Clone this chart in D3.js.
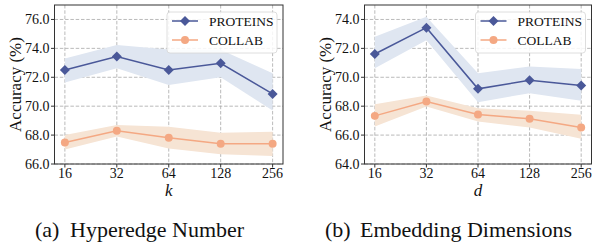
<!DOCTYPE html>
<html>
<head>
<meta charset="utf-8">
<script src="https://cdn.jsdelivr.net/npm/d3@7"></script>
<style>
  body { margin: 0; background: #fff; }
</style>
</head>
<body>
<div id="chart"></div>
<script>
// x categories shared by both panels
var xCats = ["16", "32", "64", "128", "256"];

// (a) hyperedge number k
var protK = [72.5, 73.43, 72.5, 72.97, 70.85];
var protKLo = [71.63, 72.62, 71.47, 72.0, 69.7];
var protKHi = [73.3, 74.23, 73.93, 73.9, 72.28];
var collabK = [67.49, 68.3, 67.82, 67.4, 67.4];
var collabKLo = [67.0, 67.9, 67.08, 66.67, 66.55];
var collabKHi = [68.0, 68.69, 68.57, 68.16, 68.23];
var yTicksK = [66, 68, 70, 72, 74, 76];

// (b) embedding dimensions d
var protD = [71.61, 73.43, 69.2, 69.79, 69.43];
var protDLo = [70.62, 72.57, 68.28, 68.9, 68.37];
var protDHi = [72.8, 74.18, 70.28, 70.74, 70.57];
var collabD = [67.33, 68.32, 67.42, 67.13, 66.53];
var collabDLo = [66.6, 67.98, 66.94, 66.53, 65.75];
var collabDHi = [68.14, 68.74, 67.86, 67.68, 67.4];
var yTicksD = [64, 66, 68, 70, 72, 74];

var blue = "#4a5899", blueBand = "#dfe6f1";
var orange = "#f4a883", orangeBand = "#f6e4d4";
var serif = "'Liberation Serif', 'Times New Roman', Times, 'DejaVu Serif', serif";

var svg = d3.select("#chart").append("svg")
    .attr("width", 592)
    .attr("height", 243)
    .attr("font-family", serif)
    .style("font-family", serif);

function label(sel, size) {
    return sel.style("font-family", serif).style("font-size", size + "px").attr("fill", "#111");
}

function drawPanel(left, right, yDomain, yTicks, series, xLabel, caption) {
    var top = 5, bottom = 164;
    var x = d3.scalePoint().domain(xCats).range([left, right]).padding(0.2);
    var y = d3.scaleLinear().domain(yDomain).range([bottom, top]);
    var g = svg.append("g");

    // grid
    g.append("g").selectAll("line").data(yTicks).enter().append("line")
        .attr("x1", left).attr("x2", right)
        .attr("y1", function(d) { return y(d); }).attr("y2", function(d) { return y(d); })
        .attr("stroke", "#a8a8a8").attr("stroke-width", 0.8).attr("stroke-dasharray", "3.5,1.8");
    g.append("g").selectAll("line").data(xCats).enter().append("line")
        .attr("y1", top).attr("y2", bottom)
        .attr("x1", function(d) { return x(d); }).attr("x2", function(d) { return x(d); })
        .attr("stroke", "#a8a8a8").attr("stroke-width", 0.8).attr("stroke-dasharray", "3.5,1.8");

    // bands, lines, markers
    series.forEach(function(s) {
        var pts = xCats.map(function(c, i) { return { c: c, v: s.vals[i], lo: s.lo[i], hi: s.hi[i] }; });
        g.append("path").datum(pts)
            .attr("fill", s.band)
            .attr("d", d3.area()
                .x(function(d) { return x(d.c); })
                .y0(function(d) { return y(d.lo); })
                .y1(function(d) { return y(d.hi); }));
    });
    series.forEach(function(s) {
        var pts = xCats.map(function(c, i) { return { c: c, v: s.vals[i] }; });
        g.append("path").datum(pts)
            .attr("fill", "none").attr("stroke", s.color).attr("stroke-width", 1.5)
            .attr("d", d3.line().x(function(d) { return x(d.c); }).y(function(d) { return y(d.v); }));
        g.append("g").selectAll("path").data(pts).enter().append("path")
            .attr("transform", function(d) { return "translate(" + x(d.c) + "," + y(d.v) + ")"; })
            .attr("d", s.symbol)
            .attr("fill", s.color);
    });

    // legend
    var lx = right - 116, ly = 12;
    var leg = g.append("g");
    leg.append("rect")
        .attr("x", lx).attr("y", ly).attr("width", 110).attr("height", 41)
        .attr("rx", 3).attr("fill", "#fff").attr("fill-opacity", 0.85)
        .attr("stroke", "#d6d6d6").attr("stroke-width", 0.8);
    series.forEach(function(s, i) {
        var yy = ly + 9 + i * 19;
        leg.append("line").attr("x1", lx + 5).attr("x2", lx + 31)
            .attr("y1", yy).attr("y2", yy)
            .attr("stroke", s.color).attr("stroke-width", 1.5);
        leg.append("path").attr("transform", "translate(" + (lx + 18) + "," + yy + ")")
            .attr("d", s.symbol).attr("fill", s.color);
        label(leg.append("text"), 13.5).attr("x", lx + 42).attr("y", yy + 4.5).text(s.name);
    });

    // spines
    g.append("rect")
        .attr("x", left).attr("y", top).attr("width", right - left).attr("height", bottom - top)
        .attr("fill", "none").attr("stroke", "#333").attr("stroke-width", 1);

    // ticks
    var yt = g.append("g");
    yt.selectAll("line").data(yTicks).enter().append("line")
        .attr("x1", left - 3.5).attr("x2", left)
        .attr("y1", function(d) { return y(d); }).attr("y2", function(d) { return y(d); })
        .attr("stroke", "#333");
    label(yt.selectAll("text").data(yTicks).enter().append("text"), 14)
        .attr("x", left - 5).attr("y", function(d) { return y(d) + 4.8; })
        .attr("text-anchor", "end")
        .text(function(d) { return d.toFixed(1); });
    var xt = g.append("g");
    xt.selectAll("line").data(xCats).enter().append("line")
        .attr("y1", bottom).attr("y2", bottom + 3.5)
        .attr("x1", function(d) { return x(d); }).attr("x2", function(d) { return x(d); })
        .attr("stroke", "#333");
    label(xt.selectAll("text").data(xCats).enter().append("text"), 14)
        .attr("x", function(d) { return x(d); }).attr("y", 177.5)
        .attr("text-anchor", "middle")
        .text(function(d) { return d; });

    // axis labels
    label(g.append("text"), 17)
        .attr("transform", "translate(" + (left - 33.5) + "," + ((top + bottom) / 2) + ")rotate(-90)")
        .attr("text-anchor", "middle")
        .text("Accuracy (%)");
    label(g.append("text"), 17)
        .attr("x", (left + right) / 2).attr("y", 196)
        .attr("text-anchor", "middle").style("font-style", "italic")
        .text(xLabel);

    // caption
    label(g.append("text"), 22).attr("x", caption.x).attr("y", 237).text(caption.tag);
    label(g.append("text"), 22).attr("x", caption.x + 35).attr("y", 237).text(caption.text);
}

// matplotlib-like square diamond and small circle
var diamond = "M0,-5L5,0L0,5L-5,0Z";
var circle = d3.symbol().type(d3.symbolCircle).size(50)();

drawPanel(54.5, 283, [66, 77], yTicksK, [
    { name: "PROTEINS", vals: protK, lo: protKLo, hi: protKHi, color: blue, band: blueBand, symbol: diamond },
    { name: "COLLAB", vals: collabK, lo: collabKLo, hi: collabKHi, color: orange, band: orangeBand, symbol: circle }
], "k", { x: 35, tag: "(a)", text: "Hyperedge Number" });

drawPanel(364.5, 591.5, [64, 75], yTicksD, [
    { name: "PROTEINS", vals: protD, lo: protDLo, hi: protDHi, color: blue, band: blueBand, symbol: diamond },
    { name: "COLLAB", vals: collabD, lo: collabDLo, hi: collabDHi, color: orange, band: orangeBand, symbol: circle }
], "d", { x: 325, tag: "(b)", text: "Embedding Dimensions" });
</script>
</body>
</html>
